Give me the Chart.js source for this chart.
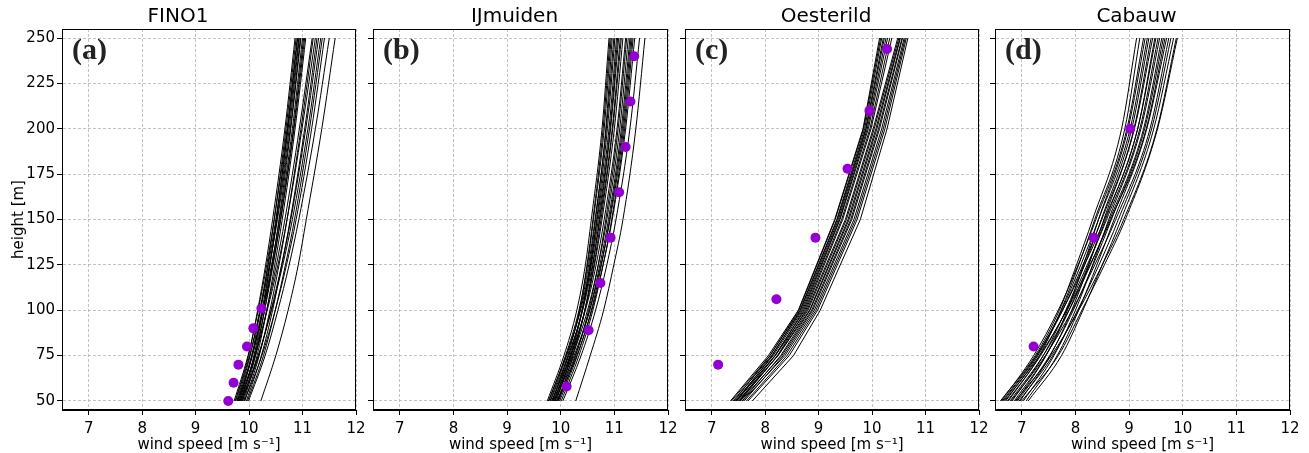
<!DOCTYPE html>
<html>
<head>
<meta charset="utf-8">
<script src="https://cdn.jsdelivr.net/npm/chart.js"></script>
<style>
  body { margin: 0; background: #fff; width: 1309px; height: 453px; overflow: hidden; position: relative; }
  canvas { position: absolute; top: 0; }
</style>
</head>
<body>
<canvas id="p0"></canvas>
<canvas id="p1"></canvas>
<canvas id="p2"></canvas>
<canvas id="p3"></canvas>
<script>
// ---- data ----
const titles = ['FINO1', 'IJmuiden', 'Oesterild', 'Cabauw'];
const tags = ['(a)', '(b)', '(c)', '(d)'];
const xTicks = [7, 8, 9, 10, 11, 12];
const yTicks = [50, 75, 100, 125, 150, 175, 200, 225, 250];

// model levels (m)
const levelsSmooth = [50, 75, 100, 125, 150, 200, 250];
const levelsOesterild = [50, 75, 100, 150, 200, 250];

// FINO1 model profiles, speed at levelsSmooth
const fino1Model = [
  [9.74, 9.99, 10.16, 10.31, 10.44, 10.67, 10.86],
  [9.82, 10.05, 10.21, 10.35, 10.47, 10.69, 10.88],
  [9.72, 9.98, 10.17, 10.33, 10.47, 10.71, 10.90],
  [9.86, 10.09, 10.26, 10.39, 10.51, 10.72, 10.91],
  [9.77, 10.02, 10.20, 10.36, 10.50, 10.73, 10.93],
  [9.80, 10.06, 10.24, 10.39, 10.52, 10.75, 10.94],
  [9.75, 10.01, 10.21, 10.38, 10.53, 10.77, 10.96],
  [9.88, 10.12, 10.29, 10.43, 10.56, 10.78, 10.97],
  [9.79, 10.06, 10.26, 10.42, 10.57, 10.81, 11.00],
  [9.84, 10.10, 10.29, 10.45, 10.59, 10.83, 11.02],
  [9.78, 10.05, 10.26, 10.44, 10.59, 10.84, 11.04],
  [9.90, 10.15, 10.33, 10.48, 10.62, 10.86, 11.06],
  [9.83, 10.12, 10.33, 10.51, 10.67, 10.94, 11.18],
  [9.92, 10.19, 10.39, 10.56, 10.71, 10.97, 11.20],
  [9.81, 10.11, 10.34, 10.54, 10.71, 10.99, 11.24],
  [9.95, 10.23, 10.44, 10.61, 10.77, 11.04, 11.27],
  [9.87, 10.18, 10.41, 10.61, 10.78, 11.06, 11.30],
  [9.85, 10.17, 10.42, 10.63, 10.81, 11.10, 11.34],
  [9.97, 10.27, 10.49, 10.68, 10.85, 11.13, 11.37],
  [9.91, 10.24, 10.49, 10.70, 10.88, 11.17, 11.41],
  [9.99, 10.30, 10.54, 10.75, 10.93, 11.24, 11.50],
  [10.22, 10.50, 10.73, 10.92, 11.07, 11.36, 11.61]
];
const fino1ObsHeight = [50, 60, 70, 80, 90, 101];
const fino1ObsSpeed = [9.61, 9.71, 9.80, 9.96, 10.08, 10.23];

// IJmuiden model profiles, speed at levelsSmooth
const ijmuidenModel = [
  [9.75, 10.06, 10.30, 10.46, 10.57, 10.77, 10.90],
  [9.85, 10.13, 10.35, 10.49, 10.60, 10.79, 10.92],
  [9.78, 10.09, 10.34, 10.50, 10.61, 10.81, 10.94],
  [9.92, 10.19, 10.40, 10.54, 10.65, 10.84, 10.96],
  [9.80, 10.11, 10.36, 10.52, 10.64, 10.85, 10.99],
  [9.88, 10.17, 10.40, 10.56, 10.67, 10.87, 11.01],
  [9.77, 10.10, 10.37, 10.55, 10.68, 10.90, 11.04],
  [9.84, 10.15, 10.40, 10.57, 10.70, 10.92, 11.06],
  [9.95, 10.23, 10.45, 10.60, 10.72, 10.93, 11.08],
  [9.81, 10.14, 10.41, 10.59, 10.73, 10.96, 11.11],
  [9.90, 10.21, 10.45, 10.62, 10.75, 10.97, 11.13],
  [9.86, 10.19, 10.45, 10.63, 10.77, 11.00, 11.16],
  [9.83, 10.18, 10.46, 10.66, 10.81, 11.05, 11.21],
  [9.96, 10.28, 10.52, 10.70, 10.84, 11.07, 11.23],
  [9.87, 10.22, 10.50, 10.70, 10.86, 11.10, 11.26],
  [9.93, 10.27, 10.54, 10.73, 10.89, 11.13, 11.29],
  [9.98, 10.31, 10.57, 10.76, 10.91, 11.15, 11.31],
  [9.89, 10.25, 10.54, 10.75, 10.92, 11.17, 11.33],
  [10.01, 10.34, 10.60, 10.79, 10.95, 11.19, 11.35],
  [9.94, 10.30, 10.58, 10.79, 10.96, 11.21, 11.38],
  [10.04, 10.38, 10.65, 10.86, 11.03, 11.29, 11.47],
  [10.28, 10.55, 10.80, 10.99, 11.16, 11.40, 11.57]
];
const ijmuidenObsHeight = [58, 89, 115, 140, 165, 190, 215, 240];
const ijmuidenObsSpeed = [10.11, 10.52, 10.74, 10.93, 11.09, 11.21, 11.30, 11.37];

// Oesterild model profiles, speed at levelsOesterild
const oesterildModel = [
  [7.35, 8.06, 8.62, 9.30, 9.83, 10.14],
  [7.42, 8.09, 8.63, 9.31, 9.84, 10.16],
  [7.37, 8.09, 8.65, 9.34, 9.86, 10.18],
  [7.46, 8.13, 8.66, 9.35, 9.88, 10.21],
  [7.40, 8.12, 8.68, 9.37, 9.89, 10.23],
  [7.44, 8.15, 8.70, 9.39, 9.91, 10.26],
  [7.51, 8.19, 8.72, 9.40, 9.93, 10.29],
  [7.47, 8.18, 8.74, 9.43, 9.96, 10.33],
  [7.53, 8.23, 8.76, 9.45, 9.98, 10.37],
  [7.45, 8.19, 8.78, 9.50, 10.02, 10.48],
  [7.52, 8.24, 8.80, 9.52, 10.04, 10.50],
  [7.49, 8.24, 8.83, 9.55, 10.07, 10.52],
  [7.57, 8.29, 8.84, 9.57, 10.09, 10.53],
  [7.54, 8.31, 8.87, 9.60, 10.12, 10.56],
  [7.61, 8.34, 8.89, 9.62, 10.14, 10.57],
  [7.58, 8.37, 8.92, 9.66, 10.18, 10.60],
  [7.65, 8.41, 8.95, 9.69, 10.21, 10.62],
  [7.68, 8.45, 8.98, 9.72, 10.24, 10.64],
  [7.76, 8.53, 9.03, 9.78, 10.28, 10.67]
];
const oesterildObsHeight = [70, 106, 140, 178, 210, 244];
const oesterildObsSpeed = [7.12, 8.21, 8.94, 9.54, 9.95, 10.28];

// Cabauw model profiles, speed at levelsSmooth
const cabauwModel = [
  [6.60, 7.25, 7.70, 8.02, 8.32, 8.86, 9.14],
  [6.75, 7.33, 7.73, 8.06, 8.36, 8.92, 9.20],
  [6.62, 7.22, 7.68, 8.05, 8.38, 8.96, 9.27],
  [6.90, 7.45, 7.85, 8.15, 8.43, 8.98, 9.30],
  [6.66, 7.28, 7.74, 8.10, 8.43, 9.02, 9.34],
  [6.82, 7.40, 7.82, 8.17, 8.48, 9.05, 9.37],
  [6.70, 7.30, 7.76, 8.14, 8.49, 9.09, 9.41],
  [6.97, 7.53, 7.93, 8.25, 8.53, 9.10, 9.44],
  [6.64, 7.27, 7.76, 8.17, 8.54, 9.16, 9.48],
  [6.86, 7.45, 7.88, 8.24, 8.56, 9.16, 9.50],
  [6.73, 7.35, 7.83, 8.22, 8.58, 9.20, 9.54],
  [7.03, 7.60, 8.00, 8.32, 8.62, 9.22, 9.57],
  [6.78, 7.40, 7.88, 8.28, 8.64, 9.27, 9.61],
  [6.92, 7.52, 7.96, 8.33, 8.67, 9.29, 9.64],
  [6.68, 7.33, 7.84, 8.27, 8.66, 9.32, 9.67],
  [7.08, 7.66, 8.06, 8.40, 8.72, 9.33, 9.70],
  [6.80, 7.44, 7.94, 8.36, 8.75, 9.39, 9.74],
  [6.95, 7.58, 8.04, 8.44, 8.80, 9.42, 9.78],
  [7.12, 7.74, 8.14, 8.50, 8.85, 9.46, 9.83],
  [6.88, 7.55, 8.06, 8.50, 8.90, 9.52, 9.88],
  [7.00, 7.68, 8.12, 8.54, 8.93, 9.53, 9.90]
];
const cabauwObsHeight = [80, 140, 200];
const cabauwObsSpeed = [7.22, 8.34, 9.02];

// ---- layout ----
const axLeft = [62, 373, 685, 995];
const axWidth = [294, 295, 294, 295];
const padRight = 12;
const sans = 'DejaVu Sans';
const gridColor = 'rgba(170,170,170,0.7)';

const panels = [
  { model: fino1Model, levels: levelsSmooth, obsH: fino1ObsHeight, obsS: fino1ObsSpeed, smooth: true },
  { model: ijmuidenModel, levels: levelsSmooth, obsH: ijmuidenObsHeight, obsS: ijmuidenObsSpeed, smooth: true },
  { model: oesterildModel, levels: levelsOesterild, obsH: oesterildObsHeight, obsS: oesterildObsSpeed, smooth: false },
  { model: cabauwModel, levels: levelsSmooth, obsH: cabauwObsHeight, obsS: cabauwObsSpeed, smooth: true }
];

// box round the axes + panel letter
const framePlugin = {
  id: 'frame',
  afterDraw(chart, args, opts) {
    const a = chart.chartArea, ctx = chart.ctx;
    ctx.save();
    ctx.strokeStyle = '#000';
    ctx.lineWidth = 1;
    ctx.strokeRect(Math.round(a.left) + 0.5, Math.round(a.top) + 0.5,
      Math.round(a.right - a.left) - 1, Math.round(a.bottom - a.top) - 1);
    ctx.font = 'bold 30px "Liberation Serif"';
    ctx.fillStyle = '#222';
    ctx.textBaseline = 'top';
    ctx.textAlign = 'left';
    ctx.fillText(opts.tag, a.left + 10, a.top + 7);
    ctx.restore();
  }
};

panels.forEach((p, i) => {
  const yw = i === 0 ? 62 : 12;
  const cv = document.getElementById('p' + i);
  cv.width = yw + axWidth[i] + padRight;
  cv.height = 453;
  cv.style.left = (axLeft[i] - yw) + 'px';

  const datasets = p.model.map(speeds => ({
    data: speeds.map((s, k) => ({ x: s, y: p.levels[k] })),
    showLine: true,
    borderColor: '#000',
    borderWidth: 1,
    pointRadius: 0,
    cubicInterpolationMode: p.smooth ? 'monotone' : 'default',
    tension: 0,
    order: 2
  }));
  datasets.push({
    data: p.obsS.map((s, k) => ({ x: s, y: p.obsH[k] })),
    showLine: false,
    pointRadius: 5,
    pointBackgroundColor: '#9400d3',
    pointBorderWidth: 0,
    order: 1
  });

  new Chart(cv, {
    type: 'scatter',
    data: { datasets },
    plugins: [framePlugin],
    options: {
      responsive: false,
      animation: false,
      layout: { padding: { left: 0, right: padRight, top: 0, bottom: 0 } },
      plugins: {
        legend: { display: false },
        tooltip: { enabled: false },
        frame: { tag: tags[i] },
        title: {
          display: true, text: titles[i], color: '#000',
          font: { family: sans, size: 20, weight: 'normal' },
          padding: { top: 5, bottom: 0 }
        }
      },
      scales: {
        x: {
          type: 'linear', min: 6.5, max: 12,
          afterBuildTicks: s => { s.ticks = xTicks.map(v => ({ value: v })); },
          afterFit: s => { s.height = 43; s.paddingLeft = 0; s.paddingRight = 0; },
          grid: { color: gridColor, tickColor: '#000', tickLength: 5 },
          border: { color: '#000', width: 1, dash: [3, 2] },
          ticks: { color: '#000', font: { family: sans, size: 15 }, padding: 5, maxRotation: 0 },
          title: {
            display: true, text: 'wind speed [m s⁻¹]', color: '#000',
            font: { family: sans, size: 15 }, padding: { top: 0, bottom: -1 }
          }
        },
        y: {
          type: 'linear', min: 45, max: 255,
          afterBuildTicks: s => { s.ticks = yTicks.map(v => ({ value: v })); },
          afterFit: s => { s.width = yw; s.paddingTop = 0; s.paddingBottom = 0; },
          grid: { color: gridColor, tickColor: '#000', tickLength: 5 },
          border: { color: '#000', width: 1, dash: [3, 2] },
          ticks: { display: i === 0, color: '#000', font: { family: sans, size: 15 }, padding: 2 },
          title: {
            display: i === 0, text: 'height [m]', color: '#000',
            font: { family: sans, size: 15 }, padding: { top: 10, bottom: 0 }
          }
        }
      }
    }
  });
});
</script>
</body>
</html>
